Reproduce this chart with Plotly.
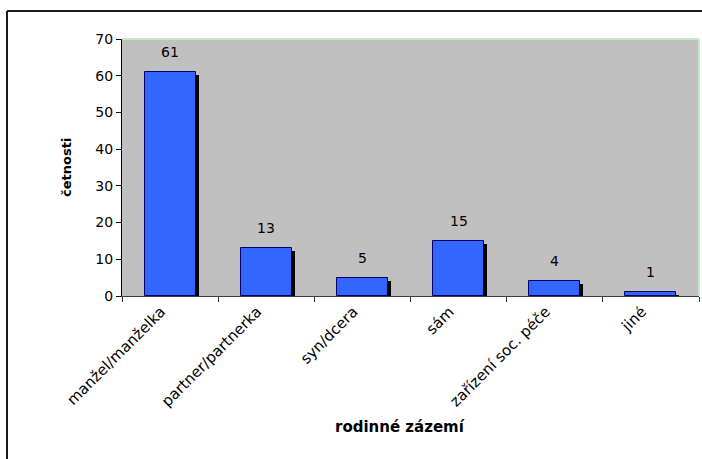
import plotly.graph_objects as go

# Family background of respondents (frequencies)
categories = ["manžel/manželka", "partner/partnerka", "syn/dcera", "sám",
              "zařízení soc. péče", "jiné"]
counts = [61, 13, 5, 15, 4, 1]
y_ticks = [0, 10, 20, 30, 40, 50, 60, 70]

FONT = "DejaVu Sans, Verdana, sans-serif"
W, H = 702, 459
ML, MR, MT, MB = 122, 3, 39, 163
plot_w = W - ML - MR
plot_h = H - MT - MB
y_max = 70
px_per_unit = plot_h / y_max

bar_w = 0.53
shadow_dx = 3 / (plot_w / len(categories))   # 3 px to the right
shadow_dy = 3 / px_per_unit                  # 3 px lower at the top

fig = go.Figure()

# drop shadow behind each bar
fig.add_trace(go.Bar(
    x=categories,
    y=[max(v - shadow_dy, 0) for v in counts],
    width=bar_w,
    offset=-bar_w / 2 + shadow_dx,
    marker=dict(color="#000000", line=dict(width=0)),
    hoverinfo="skip",
    showlegend=False,
))

# main bars
fig.add_trace(go.Bar(
    x=categories,
    y=counts,
    width=bar_w,
    offset=-bar_w / 2,
    marker=dict(color="#3366FF", line=dict(color="#000066", width=1)),
    showlegend=False,
))

annotations = []
for c, v in zip(categories, counts):
    annotations.append(dict(
        x=c, y=v, xref="x", yref="y", text=str(v), showarrow=False,
        yanchor="middle", yshift=20,
        font=dict(family=FONT, size=14, color="#000000"),
    ))

# axis titles
annotations.append(dict(
    x=(57 - ML) / plot_w, y=0.5, xref="paper", yref="paper",
    text="<b>četnosti</b>", textangle=-90, showarrow=False,
    font=dict(family=FONT, size=13, color="#000000"),
))
annotations.append(dict(
    x=(400 - ML) / plot_w, y=-(438 - (MT + plot_h)) / plot_h,
    xref="paper", yref="paper",
    text="<b>rodinné zázemí</b>", showarrow=False,
    font=dict(family=FONT, size=15, color="#000000"),
))

# outer frame (left and top edges)
fx = (7 - ML) / plot_w
fy = (MT + plot_h - 11) / plot_h
shapes = [
    dict(type="line", xref="paper", yref="paper", x0=fx, x1=fx, y0=fy, y1=-1.0,
         line=dict(color="#1a1a1a", width=2)),
    dict(type="line", xref="paper", yref="paper", x0=fx, x1=1.1, y0=fy, y1=fy,
         line=dict(color="#1a1a1a", width=2)),
    # light green border on top and right of plot area
    dict(type="line", xref="paper", yref="paper", x0=0, x1=1, y0=1, y1=1,
         line=dict(color="#C6E8C6", width=2)),
    dict(type="line", xref="paper", yref="paper", x0=1, x1=1, y0=0, y1=1,
         line=dict(color="#C6E8C6", width=2)),
]

fig.update_layout(
    width=W, height=H,
    margin=dict(l=ML, r=MR, t=MT, b=MB, autoexpand=False),
    paper_bgcolor="#FFFFFF",
    plot_bgcolor="#C0C0C0",
    barmode="overlay",
    bargap=0,
    font=dict(family=FONT, size=14, color="#000000"),
    annotations=annotations,
    shapes=shapes,
)

fig.update_xaxes(
    type="category",
    tickangle=-45,
    tickson="boundaries",
    ticks="outside", ticklen=5, tickcolor="#333333", tickwidth=1,
    ticklabelshift=-9,
    showline=True, linecolor="#404040", linewidth=1,
    showgrid=False, zeroline=False,
    tickfont=dict(family=FONT, size=15, color="#000000"),
)

fig.update_yaxes(
    range=[0, y_max],
    tickvals=y_ticks,
    ticks="outside", ticklen=5, tickcolor="#000000", tickwidth=1,
    showline=True, linecolor="#000000", linewidth=1,
    showgrid=False, zeroline=False,
    tickfont=dict(family=FONT, size=14, color="#000000"),
)

fig.write_html("out.html")
